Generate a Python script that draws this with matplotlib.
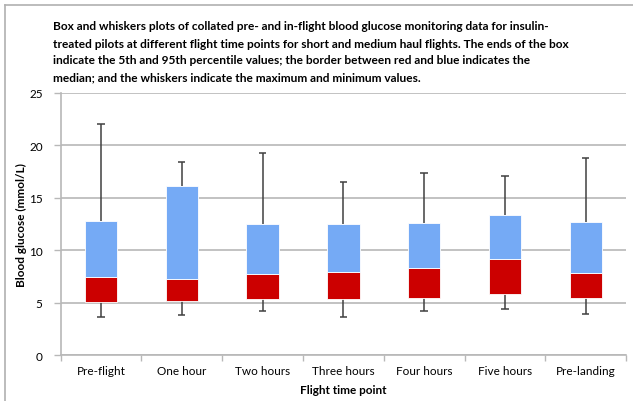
import numpy as np
import matplotlib.pyplot as plt
from matplotlib.lines import Line2D

plt.rcParams['font.family'] = ['Lato', 'DejaVu Sans']

# Flight time points and glucose summary values (mmol/L)
points = ["Pre-flight", "One hour", "Two hours", "Three hours",
          "Four hours", "Five hours", "Pre-landing"]
p5 = [5.1, 5.2, 5.3, 5.3, 5.4, 5.8, 5.4]
median = [7.4, 7.3, 7.7, 7.9, 8.3, 9.2, 7.8]
p95 = [12.8, 16.1, 12.5, 12.5, 12.6, 13.4, 12.7]
minimum = [3.6, 3.8, 4.2, 3.6, 4.2, 4.4, 3.9]
maximum = [22.0, 18.4, 19.3, 16.5, 17.4, 17.1, 18.8]

title_lines = [
    "Box and whiskers plots of collated pre- and in-flight blood glucose monitoring data for insulin-",
    "treated pilots at different flight time points for short and medium haul flights. The ends of the box",
    "indicate the 5th and 95th percentile values; the border between red and blue indicates the",
    "median; and the whiskers indicate the maximum and minimum values.",
]

red = "#cc0000"
blue = "#75aaf5"
grid = "#b8b8b8"
whisk = "#404040"

W, H = 633, 402
fig = plt.figure(figsize=(W / 100, H / 100), dpi=100)
ax = fig.add_axes([0.0959, 0.1144, 0.8931, 0.6518])

x = np.arange(len(points))
p5 = np.array(p5)
median = np.array(median)
p95 = np.array(p95)

# whiskers behind the boxes
ax.vlines(x, minimum, p5, color=whisk, lw=1.1, zorder=2)
ax.vlines(x, p95, maximum, color=whisk, lw=1.1, zorder=2)
ax.hlines(minimum, x - 0.045, x + 0.045, color=whisk, lw=1.1, zorder=2)
ax.hlines(maximum, x - 0.045, x + 0.045, color=whisk, lw=1.1, zorder=2)

ax.bar(x, median - p5, bottom=p5, width=0.4, color=red,
       edgecolor="white", linewidth=0.6, zorder=3)
ax.bar(x, p95 - median, bottom=median, width=0.4, color=blue,
       edgecolor="white", linewidth=0.6, zorder=3)

ax.set_xlim(-0.5, len(points) - 0.5)
ax.set_ylim(0, 25)
ax.set_yticks(range(0, 26, 5))
ax.yaxis.grid(True, color=grid, lw=1.2)
ax.set_axisbelow(True)

ax.set_xticks(x)
ax.set_xticklabels(points, fontsize=8.5)
ax.set_xticks(np.arange(-0.5, len(points)), minor=True)
ax.tick_params(axis="x", which="major", length=0, pad=7)
ax.tick_params(axis="x", which="minor", length=4, color=grid, width=1)
ax.tick_params(axis="y", length=5, color=grid, width=1, labelsize=8.5, pad=8)

for s in ["top", "right"]:
    ax.spines[s].set_visible(False)
for s in ["left", "bottom"]:
    ax.spines[s].set_color(grid)
    ax.spines[s].set_linewidth(1.2)

fig.text(343 / W, 1 - 391 / H, "Flight time point", fontsize=8.5,
         fontweight="bold", ha="center", va="center")
fig.text(21 / W, 1 - 225 / H, "Blood glucose (mmol/L)", fontsize=8.5,
         fontweight="bold", ha="center", va="center", rotation=90)

for i, line in enumerate(title_lines):
    fig.text(53 / W, 1 - (27 + 17 * i) / H, line, fontsize=8.6,
             fontweight="bold", ha="left", va="center")

# page frame on the left and top
fig.add_artist(Line2D([5 / W, 5 / W], [0, 1 - 6 / H], transform=fig.transFigure,
                      color="#b0b0b0", lw=1.2))
fig.add_artist(Line2D([5 / W, 1], [1 - 6 / H, 1 - 6 / H], transform=fig.transFigure,
                      color="#b0b0b0", lw=1.2))

fig.savefig("out.png", dpi=100)
